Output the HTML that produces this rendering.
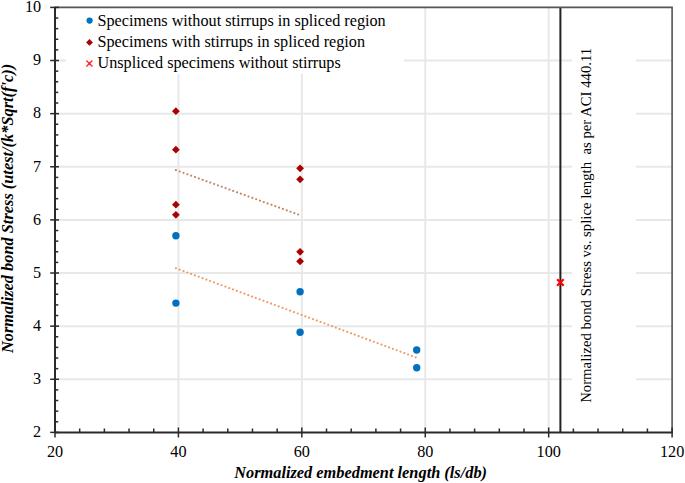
<!DOCTYPE html>
<html><head><meta charset="utf-8"><style>
html,body{margin:0;padding:0;background:#fff;}
svg{display:block;}
.t{font-family:"Liberation Serif",serif;font-size:16.2px;fill:#000;}
.bt{font-family:"Liberation Serif",serif;font-size:16.35px;font-weight:bold;font-style:italic;fill:#000;}
.vt{font-family:"Liberation Serif",serif;font-size:14.75px;fill:#000;}
</style></head><body>
<svg width="685" height="483" viewBox="0 0 685 483">
<rect width="685" height="483" fill="#fff"/>
<line x1="178.42" y1="7.40" x2="178.42" y2="432.40" stroke="#E8E8E8" stroke-width="2"/>
<line x1="301.84" y1="7.40" x2="301.84" y2="432.40" stroke="#E8E8E8" stroke-width="2"/>
<line x1="425.26" y1="7.40" x2="425.26" y2="432.40" stroke="#E8E8E8" stroke-width="2"/>
<line x1="548.68" y1="7.40" x2="548.68" y2="432.40" stroke="#E8E8E8" stroke-width="2"/>
<line x1="55.00" y1="379.27" x2="672.10" y2="379.27" stroke="#E8E8E8" stroke-width="2"/>
<line x1="55.00" y1="326.15" x2="672.10" y2="326.15" stroke="#E8E8E8" stroke-width="2"/>
<line x1="55.00" y1="273.02" x2="672.10" y2="273.02" stroke="#E8E8E8" stroke-width="2"/>
<line x1="55.00" y1="219.90" x2="672.10" y2="219.90" stroke="#E8E8E8" stroke-width="2"/>
<line x1="55.00" y1="166.77" x2="672.10" y2="166.77" stroke="#E8E8E8" stroke-width="2"/>
<line x1="55.00" y1="113.65" x2="672.10" y2="113.65" stroke="#E8E8E8" stroke-width="2"/>
<line x1="55.00" y1="60.52" x2="672.10" y2="60.52" stroke="#E8E8E8" stroke-width="2"/>
<rect x="66" y="8" width="338" height="66" fill="#fff"/>
<rect x="572" y="8" width="64" height="424" fill="#fff"/>
<line x1="560.4" y1="7.40" x2="560.4" y2="432.40" stroke="#222" stroke-width="2"/>
<path d="M55.00 7.40 H672.10 V432.40" fill="none" stroke="#555" stroke-width="1.6"/>
<line x1="55.00" y1="6.65" x2="55.00" y2="432.40" stroke="#2a2a2a" stroke-width="2"/>
<line x1="55.00" y1="432.60" x2="672.85" y2="432.60" stroke="#2a2a2a" stroke-width="2"/>
<line x1="50.2" y1="432.40" x2="59" y2="432.40" stroke="#2a2a2a" stroke-width="1.5"/>
<line x1="55.00" y1="421.77" x2="58.3" y2="421.77" stroke="#2a2a2a" stroke-width="1.5"/>
<line x1="55.00" y1="411.15" x2="58.3" y2="411.15" stroke="#2a2a2a" stroke-width="1.5"/>
<line x1="55.00" y1="400.52" x2="58.3" y2="400.52" stroke="#2a2a2a" stroke-width="1.5"/>
<line x1="55.00" y1="389.90" x2="58.3" y2="389.90" stroke="#2a2a2a" stroke-width="1.5"/>
<line x1="50.2" y1="379.27" x2="59" y2="379.27" stroke="#2a2a2a" stroke-width="1.5"/>
<line x1="55.00" y1="368.65" x2="58.3" y2="368.65" stroke="#2a2a2a" stroke-width="1.5"/>
<line x1="55.00" y1="358.02" x2="58.3" y2="358.02" stroke="#2a2a2a" stroke-width="1.5"/>
<line x1="55.00" y1="347.40" x2="58.3" y2="347.40" stroke="#2a2a2a" stroke-width="1.5"/>
<line x1="55.00" y1="336.77" x2="58.3" y2="336.77" stroke="#2a2a2a" stroke-width="1.5"/>
<line x1="50.2" y1="326.15" x2="59" y2="326.15" stroke="#2a2a2a" stroke-width="1.5"/>
<line x1="55.00" y1="315.52" x2="58.3" y2="315.52" stroke="#2a2a2a" stroke-width="1.5"/>
<line x1="55.00" y1="304.90" x2="58.3" y2="304.90" stroke="#2a2a2a" stroke-width="1.5"/>
<line x1="55.00" y1="294.27" x2="58.3" y2="294.27" stroke="#2a2a2a" stroke-width="1.5"/>
<line x1="55.00" y1="283.65" x2="58.3" y2="283.65" stroke="#2a2a2a" stroke-width="1.5"/>
<line x1="50.2" y1="273.02" x2="59" y2="273.02" stroke="#2a2a2a" stroke-width="1.5"/>
<line x1="55.00" y1="262.40" x2="58.3" y2="262.40" stroke="#2a2a2a" stroke-width="1.5"/>
<line x1="55.00" y1="251.77" x2="58.3" y2="251.77" stroke="#2a2a2a" stroke-width="1.5"/>
<line x1="55.00" y1="241.15" x2="58.3" y2="241.15" stroke="#2a2a2a" stroke-width="1.5"/>
<line x1="55.00" y1="230.52" x2="58.3" y2="230.52" stroke="#2a2a2a" stroke-width="1.5"/>
<line x1="50.2" y1="219.90" x2="59" y2="219.90" stroke="#2a2a2a" stroke-width="1.5"/>
<line x1="55.00" y1="209.27" x2="58.3" y2="209.27" stroke="#2a2a2a" stroke-width="1.5"/>
<line x1="55.00" y1="198.65" x2="58.3" y2="198.65" stroke="#2a2a2a" stroke-width="1.5"/>
<line x1="55.00" y1="188.02" x2="58.3" y2="188.02" stroke="#2a2a2a" stroke-width="1.5"/>
<line x1="55.00" y1="177.40" x2="58.3" y2="177.40" stroke="#2a2a2a" stroke-width="1.5"/>
<line x1="50.2" y1="166.77" x2="59" y2="166.77" stroke="#2a2a2a" stroke-width="1.5"/>
<line x1="55.00" y1="156.15" x2="58.3" y2="156.15" stroke="#2a2a2a" stroke-width="1.5"/>
<line x1="55.00" y1="145.52" x2="58.3" y2="145.52" stroke="#2a2a2a" stroke-width="1.5"/>
<line x1="55.00" y1="134.90" x2="58.3" y2="134.90" stroke="#2a2a2a" stroke-width="1.5"/>
<line x1="55.00" y1="124.27" x2="58.3" y2="124.27" stroke="#2a2a2a" stroke-width="1.5"/>
<line x1="50.2" y1="113.65" x2="59" y2="113.65" stroke="#2a2a2a" stroke-width="1.5"/>
<line x1="55.00" y1="103.03" x2="58.3" y2="103.03" stroke="#2a2a2a" stroke-width="1.5"/>
<line x1="55.00" y1="92.40" x2="58.3" y2="92.40" stroke="#2a2a2a" stroke-width="1.5"/>
<line x1="55.00" y1="81.77" x2="58.3" y2="81.77" stroke="#2a2a2a" stroke-width="1.5"/>
<line x1="55.00" y1="71.15" x2="58.3" y2="71.15" stroke="#2a2a2a" stroke-width="1.5"/>
<line x1="50.2" y1="60.52" x2="59" y2="60.52" stroke="#2a2a2a" stroke-width="1.5"/>
<line x1="55.00" y1="49.90" x2="58.3" y2="49.90" stroke="#2a2a2a" stroke-width="1.5"/>
<line x1="55.00" y1="39.27" x2="58.3" y2="39.27" stroke="#2a2a2a" stroke-width="1.5"/>
<line x1="55.00" y1="28.65" x2="58.3" y2="28.65" stroke="#2a2a2a" stroke-width="1.5"/>
<line x1="55.00" y1="18.02" x2="58.3" y2="18.02" stroke="#2a2a2a" stroke-width="1.5"/>
<line x1="50.2" y1="7.40" x2="59" y2="7.40" stroke="#2a2a2a" stroke-width="1.5"/>
<line x1="55.00" y1="427.5" x2="55.00" y2="437.5" stroke="#2a2a2a" stroke-width="1.5"/>
<line x1="79.68" y1="428.5" x2="79.68" y2="432.40" stroke="#2a2a2a" stroke-width="1.5"/>
<line x1="104.37" y1="428.5" x2="104.37" y2="432.40" stroke="#2a2a2a" stroke-width="1.5"/>
<line x1="129.05" y1="428.5" x2="129.05" y2="432.40" stroke="#2a2a2a" stroke-width="1.5"/>
<line x1="153.74" y1="428.5" x2="153.74" y2="432.40" stroke="#2a2a2a" stroke-width="1.5"/>
<line x1="178.42" y1="427.5" x2="178.42" y2="437.5" stroke="#2a2a2a" stroke-width="1.5"/>
<line x1="203.10" y1="428.5" x2="203.10" y2="432.40" stroke="#2a2a2a" stroke-width="1.5"/>
<line x1="227.79" y1="428.5" x2="227.79" y2="432.40" stroke="#2a2a2a" stroke-width="1.5"/>
<line x1="252.47" y1="428.5" x2="252.47" y2="432.40" stroke="#2a2a2a" stroke-width="1.5"/>
<line x1="277.16" y1="428.5" x2="277.16" y2="432.40" stroke="#2a2a2a" stroke-width="1.5"/>
<line x1="301.84" y1="427.5" x2="301.84" y2="437.5" stroke="#2a2a2a" stroke-width="1.5"/>
<line x1="326.52" y1="428.5" x2="326.52" y2="432.40" stroke="#2a2a2a" stroke-width="1.5"/>
<line x1="351.21" y1="428.5" x2="351.21" y2="432.40" stroke="#2a2a2a" stroke-width="1.5"/>
<line x1="375.89" y1="428.5" x2="375.89" y2="432.40" stroke="#2a2a2a" stroke-width="1.5"/>
<line x1="400.58" y1="428.5" x2="400.58" y2="432.40" stroke="#2a2a2a" stroke-width="1.5"/>
<line x1="425.26" y1="427.5" x2="425.26" y2="437.5" stroke="#2a2a2a" stroke-width="1.5"/>
<line x1="449.94" y1="428.5" x2="449.94" y2="432.40" stroke="#2a2a2a" stroke-width="1.5"/>
<line x1="474.63" y1="428.5" x2="474.63" y2="432.40" stroke="#2a2a2a" stroke-width="1.5"/>
<line x1="499.31" y1="428.5" x2="499.31" y2="432.40" stroke="#2a2a2a" stroke-width="1.5"/>
<line x1="524.00" y1="428.5" x2="524.00" y2="432.40" stroke="#2a2a2a" stroke-width="1.5"/>
<line x1="548.68" y1="427.5" x2="548.68" y2="437.5" stroke="#2a2a2a" stroke-width="1.5"/>
<line x1="573.36" y1="428.5" x2="573.36" y2="432.40" stroke="#2a2a2a" stroke-width="1.5"/>
<line x1="598.05" y1="428.5" x2="598.05" y2="432.40" stroke="#2a2a2a" stroke-width="1.5"/>
<line x1="622.73" y1="428.5" x2="622.73" y2="432.40" stroke="#2a2a2a" stroke-width="1.5"/>
<line x1="647.42" y1="428.5" x2="647.42" y2="432.40" stroke="#2a2a2a" stroke-width="1.5"/>
<line x1="672.10" y1="427.5" x2="672.10" y2="437.5" stroke="#2a2a2a" stroke-width="1.5"/>
<text x="41.2" y="437.20" text-anchor="end" class="t">2</text>
<text x="41.2" y="384.07" text-anchor="end" class="t">3</text>
<text x="41.2" y="330.95" text-anchor="end" class="t">4</text>
<text x="41.2" y="277.82" text-anchor="end" class="t">5</text>
<text x="41.2" y="224.70" text-anchor="end" class="t">6</text>
<text x="41.2" y="171.57" text-anchor="end" class="t">7</text>
<text x="41.2" y="118.45" text-anchor="end" class="t">8</text>
<text x="41.2" y="65.32" text-anchor="end" class="t">9</text>
<text x="41.2" y="12.20" text-anchor="end" class="t">10</text>
<text x="55.00" y="456.6" text-anchor="middle" class="t">20</text>
<text x="178.42" y="456.6" text-anchor="middle" class="t">40</text>
<text x="301.84" y="456.6" text-anchor="middle" class="t">60</text>
<text x="425.26" y="456.6" text-anchor="middle" class="t">80</text>
<text x="548.68" y="456.6" text-anchor="middle" class="t">100</text>
<text x="672.10" y="456.6" text-anchor="middle" class="t">120</text>
<text transform="translate(12.8 208.5) rotate(-90)" text-anchor="middle" class="bt">Normalized bond Stress (utest/(k*Sqrt(f'c))</text>
<text x="360.6" y="477.6" text-anchor="middle" class="bt">Normalized embedment length (ls/db)</text>
<text transform="translate(591.3 225.3) rotate(-90)" text-anchor="middle" class="vt" style="white-space:pre">Normalized bond Stress vs. splice length  as per ACI 440.11</text>
<line x1="175.9" y1="170.1" x2="300.1" y2="215.2" stroke="#C08660" stroke-width="2.1" stroke-linecap="round" stroke-dasharray="0.01 4.055"/>
<line x1="175.9" y1="268.25" x2="416.7" y2="357.67" stroke="#EE9A66" stroke-width="2.1" stroke-linecap="round" stroke-dasharray="0.01 4.05"/>
<path d="M175.90 107.30 L179.80 111.20 L175.90 115.10 L172.00 111.20Z" fill="#AA0000"/>
<path d="M175.90 145.80 L179.80 149.70 L175.90 153.60 L172.00 149.70Z" fill="#AA0000"/>
<path d="M175.90 200.80 L179.80 204.70 L175.90 208.60 L172.00 204.70Z" fill="#AA0000"/>
<path d="M175.90 210.90 L179.80 214.80 L175.90 218.70 L172.00 214.80Z" fill="#AA0000"/>
<path d="M300.10 164.40 L304.00 168.30 L300.10 172.20 L296.20 168.30Z" fill="#AA0000"/>
<path d="M300.10 175.40 L304.00 179.30 L300.10 183.20 L296.20 179.30Z" fill="#AA0000"/>
<path d="M300.10 247.90 L304.00 251.80 L300.10 255.70 L296.20 251.80Z" fill="#AA0000"/>
<path d="M300.10 257.40 L304.00 261.30 L300.10 265.20 L296.20 261.30Z" fill="#AA0000"/>
<circle cx="175.90" cy="235.70" r="3.7" fill="#0070C0"/>
<circle cx="175.90" cy="303.10" r="3.7" fill="#0070C0"/>
<circle cx="300.10" cy="291.80" r="3.7" fill="#0070C0"/>
<circle cx="300.10" cy="332.20" r="3.7" fill="#0070C0"/>
<circle cx="416.70" cy="350.00" r="3.7" fill="#0070C0"/>
<circle cx="416.70" cy="367.80" r="3.7" fill="#0070C0"/>
<path d="M557.10 279.20 L563.70 285.80 M563.70 279.20 L557.10 285.80" stroke="#FF0000" stroke-width="2.2"/><path d="M560.40 280.10 L561.90 282.50 L560.40 284.90 L558.90 282.50Z" fill="#FF0000"/>
<circle cx="89.60" cy="20.60" r="3.1" fill="#0070C0"/>
<path d="M89.50 39.00 L92.90 42.40 L89.50 45.80 L86.10 42.40Z" fill="#AA0000"/>
<path d="M86.40 60.40 L92.40 66.40 M92.40 60.40 L86.40 66.40" stroke="#FF2A2A" stroke-width="1.4"/><path d="M89.40 61.64 L90.50 63.40 L89.40 65.16 L88.30 63.40Z" fill="#FF2A2A"/>
<text x="97.5" y="25.5" class="t">Specimens without stirrups in spliced region</text>
<text x="97.5" y="46.8" class="t">Specimens with stirrups in spliced region</text>
<text x="97.5" y="68.1" class="t">Unspliced specimens without stirrups</text>
</svg>
</body></html>
